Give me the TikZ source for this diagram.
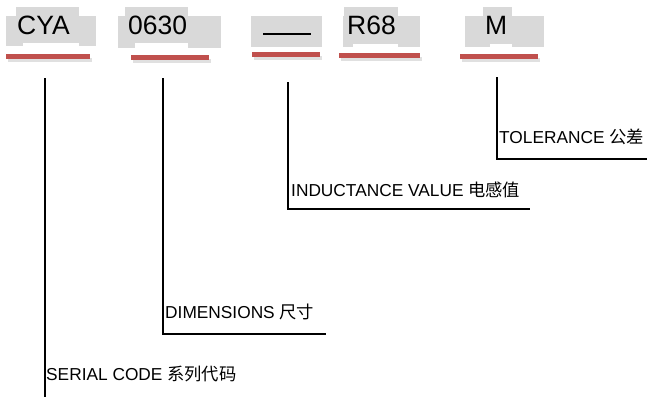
\documentclass[tikz,border=0pt]{standalone}
\usepackage{fontspec}
\setmainfont{Liberation Sans}
\newfontfamily\cjk{Noto Sans CJK SC}
\begin{document}
\begin{tikzpicture}[x=1pt,y=-1pt,
  code/.style={anchor=base west,inner sep=0pt,font=\fontsize{26.5}{30}\selectfont},
  lbl/.style={anchor=base west,inner sep=0pt,font=\fontsize{17.3}{20}\selectfont},
  hl/.style={fill=black!15,draw=none},
  redbar/.style={fill={rgb,255:red,192;green,80;blue,77},draw=none},
  shadowbar/.style={fill=black!12,draw=none},
  leader/.style={draw=black,line width=2pt,line cap=rect}]
\useasboundingbox (0,0) rectangle (647,396);
% grey highlight boxes
\fill[hl] (6,16) rectangle (96,46);
\fill[hl] (16,7) rectangle (79,43);
\fill[white] (23,43) rectangle (79,46.5);
\fill[hl] (118,16) rectangle (221,48);
\fill[hl] (125,7) rectangle (188,43);
\fill[white] (135,43) rectangle (188,48.5);
\fill[hl] (251,16) rectangle (322,47);
\fill[hl] (343,16) rectangle (420,47);
\fill[hl] (344,7) rectangle (398,44);
\fill[white] (353,44) rectangle (398,47.5);
\fill[hl] (465,16) rectangle (544,47);
\fill[hl] (483,7) rectangle (512,44);
\fill[white] (490,44) rectangle (512,47.5);
% codes
\node[code] (cya) at (17,35) {CYA};
\node[code] (dim) at (128,35) {0630};
\coordinate (dashL) at (263,34);
\coordinate (dashR) at (311,34);
\draw[line width=2.2pt] (dashL) -- (dashR);
\node[code] (ind) at (347,35) {R68};
\node[code] (tol) at (485,35) {M};
% red bars with shadows
\fill[shadowbar] (8,58) rectangle (92,62);
\fill[redbar] (6,54) rectangle (90,59);
\fill[shadowbar] (133,59) rectangle (211,63);
\fill[redbar] (131,55) rectangle (209,60);
\fill[shadowbar] (254,56) rectangle (322,60);
\fill[redbar] (252,52) rectangle (320,57);
\fill[shadowbar] (341,57) rectangle (422,61);
\fill[redbar] (339,53) rectangle (420,58);
\fill[shadowbar] (462,58) rectangle (540,62);
\fill[redbar] (460,54) rectangle (538,59);
% leader line coordinates
\coordinate (s0) at (45,79);
\coordinate (s1) at (45,396);
\coordinate (d0) at (163,79);
\coordinate (d1) at (163,334);
\coordinate (d2) at (325,334);
\coordinate (i0) at (288,83);
\coordinate (i1) at (288,209);
\coordinate (i2) at (529,209);
\coordinate (t0) at (497,78);
\coordinate (t1) at (497,159);
\coordinate (t2) at (647,159);
\draw[leader] (s0) -- (s1);
\draw[leader] (d0) -- (d1) -- (d2);
\draw[leader] (i0) -- (i1) -- (i2);
\draw[leader] (t0) -- (t1) -- (t2);
% labels
\node[lbl] (serial) at (46,380) {SERIAL CODE {\cjk 系列代码}};
\node[lbl] (dims) at (165,318) {DIMENSIONS {\cjk 尺寸}};
\node[lbl] (indv) at (291,196) {INDUCTANCE VALUE {\cjk 电感值}};
\node[lbl] (tolv) at (499,143) {TOLERANCE {\cjk 公差}};
\end{tikzpicture}
\end{document}
